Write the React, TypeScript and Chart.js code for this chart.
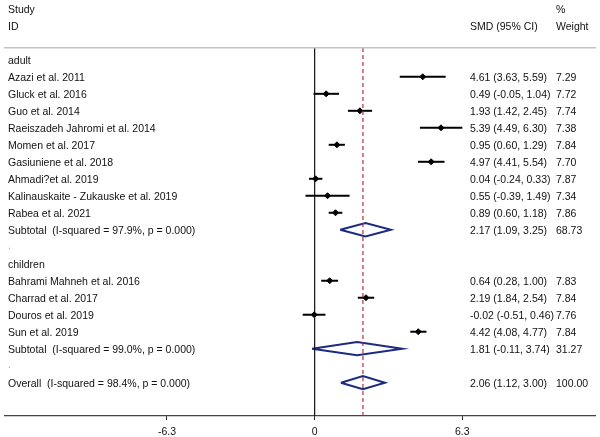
import React, { useEffect, useRef } from "react";
import { Chart, registerables } from "chart.js";
Chart.register(...registerables);

// ---------- data ----------
const adultStudies = [
  "Azazi et al. 2011",
  "Gluck et al. 2016",
  "Guo et al. 2014",
  "Raeiszadeh Jahromi et al. 2014",
  "Momen et al. 2017",
  "Gasiuniene et al. 2018",
  "Ahmadi?et al. 2019",
  "Kalinauskaite - Zukauske et al. 2019",
  "Rabea et al. 2021",
];
const adultSMD = [4.61, 0.49, 1.93, 5.39, 0.95, 4.97, 0.04, 0.55, 0.89];
const adultLow = [3.63, -0.05, 1.42, 4.49, 0.6, 4.41, -0.24, -0.39, 0.6];
const adultHigh = [5.59, 1.04, 2.45, 6.3, 1.29, 5.54, 0.33, 1.49, 1.18];
const adultWeight = [7.29, 7.72, 7.74, 7.38, 7.84, 7.7, 7.87, 7.34, 7.86];
const adultSubtotal = [2.17, 1.09, 3.25, 68.73];
const adultHet = "Subtotal  (I-squared = 97.9%, p = 0.000)";

const childStudies = [
  "Bahrami Mahneh et al. 2016",
  "Charrad et al. 2017",
  "Douros et al. 2019",
  "Sun et al. 2019",
];
const childSMD = [0.64, 2.19, -0.02, 4.42];
const childLow = [0.28, 1.84, -0.51, 4.08];
const childHigh = [1.0, 2.54, 0.46, 4.77];
const childWeight = [7.83, 7.84, 7.76, 7.84];
const childSubtotal = [1.81, -0.11, 3.74, 31.27];
const childHet = "Subtotal  (I-squared = 99.0%, p = 0.000)";

const overall = [2.06, 1.12, 3.0, 100.0];
const overallHet = "Overall  (I-squared = 98.4%, p = 0.000)";

const tickValues = [-6.3, 0, 6.3];

// ---------- layout / style ----------
const X_MIN = -13.21;
const X_MAX = 11.96;
const Y_MIN = -0.227;
const Y_MAX = 23.96;
const SEP_ROW = 2.29;
const FONT = "10.5px 'Liberation Sans', Arial, sans-serif";
const TEXT_COLOR = "#111";
const DIAMOND_COLOR = "#1c2a80";
const COL_STUDY = 8;
const COL_SMD = 470;
const COL_W = 556;

type TextItem = { text: string; row: number; x: number; color?: string };

function fmtCI(est: number, lo: number, hi: number) {
  return `${est.toFixed(2)} (${lo.toFixed(2)}, ${hi.toFixed(2)})`;
}

function buildAll() {
  const texts: TextItem[] = [];
  const ciSets: any[] = [];
  const points: { x: number; y: number }[] = [];
  const diamonds: any[] = [];

  texts.push({ text: "Study", row: 0, x: COL_STUDY });
  texts.push({ text: "ID", row: 1, x: COL_STUDY });
  texts.push({ text: "%", row: 0, x: COL_W });
  texts.push({ text: "SMD (95% CI)", row: 1, x: COL_SMD });
  texts.push({ text: "Weight", row: 1, x: COL_W });

  const addDiamond = (est: number, lo: number, hi: number, row: number) => {
    const h = 0.39;
    diamonds.push({
      data: [
        { x: lo, y: row },
        { x: est, y: row - h },
        { x: hi, y: row },
        { x: est, y: row + h },
        { x: lo, y: row },
      ],
      showLine: true,
      borderColor: DIAMOND_COLOR,
      borderWidth: 2,
      pointRadius: 0,
      fill: false,
      clip: false,
    });
  };

  const groups = [
    { label: "adult", names: adultStudies, smd: adultSMD, lo: adultLow, hi: adultHigh, w: adultWeight, sub: adultSubtotal, het: adultHet },
    { label: "children", names: childStudies, smd: childSMD, lo: childLow, hi: childHigh, w: childWeight, sub: childSubtotal, het: childHet },
  ];

  let r = 3;
  groups.forEach((g) => {
    texts.push({ text: g.label, row: r, x: COL_STUDY });
    r++;
    g.names.forEach((name, i) => {
      texts.push({ text: name, row: r, x: COL_STUDY });
      texts.push({ text: fmtCI(g.smd[i], g.lo[i], g.hi[i]), row: r, x: COL_SMD });
      texts.push({ text: g.w[i].toFixed(2), row: r, x: COL_W });
      ciSets.push({
        data: [
          { x: g.lo[i], y: r },
          { x: g.hi[i], y: r },
        ],
        showLine: true,
        borderColor: "#000",
        borderWidth: 2,
        pointRadius: 0,
        clip: false,
      });
      points.push({ x: g.smd[i], y: r });
      r++;
    });
    texts.push({ text: g.het, row: r, x: COL_STUDY });
    texts.push({ text: fmtCI(g.sub[0], g.sub[1], g.sub[2]), row: r, x: COL_SMD });
    texts.push({ text: g.sub[3].toFixed(2), row: r, x: COL_W });
    addDiamond(g.sub[0], g.sub[1], g.sub[2], r);
    r++;
    texts.push({ text: ".", row: r - 0.1, x: COL_STUDY, color: "#aaa" });
    r++;
  });
  texts.push({ text: overallHet, row: r, x: COL_STUDY });
  texts.push({ text: fmtCI(overall[0], overall[1], overall[2]), row: r, x: COL_SMD });
  texts.push({ text: overall[3].toFixed(2), row: r, x: COL_W });
  addDiamond(overall[0], overall[1], overall[2], r);

  return { texts, ciSets, points, diamonds };
}

export default function App() {
  const ref = useRef<HTMLCanvasElement>(null);

  useEffect(() => {
    if (!ref.current) return;
    const { texts, ciSets, points, diamonds } = buildAll();

    const textPlugin = {
      id: "forestText",
      afterDatasetsDraw(chart: any) {
        const ctx = chart.ctx;
        const ys = chart.scales.y;
        ctx.save();
        ctx.font = FONT;
        ctx.textBaseline = "middle";
        ctx.textAlign = "left";
        texts.forEach((t) => {
          ctx.fillStyle = t.color || TEXT_COLOR;
          ctx.fillText(t.text, t.x, ys.getPixelForValue(t.row) + 1.5);
        });
        ctx.restore();
      },
    };

    const datasets: any[] = [
      {
        data: [
          { x: X_MIN - 0.05, y: SEP_ROW },
          { x: X_MAX + 0.05, y: SEP_ROW },
        ],
        showLine: true,
        borderColor: "#c4c4c4",
        borderWidth: 1.5,
        pointRadius: 0,
        clip: false,
      },
      {
        data: [
          { x: 0, y: SEP_ROW + 0.02 },
          { x: 0, y: Y_MAX },
        ],
        showLine: true,
        borderColor: "#111",
        borderWidth: 1.2,
        pointRadius: 0,
        clip: false,
      },
      {
        data: [
          { x: overall[0], y: SEP_ROW + 0.02 },
          { x: overall[0], y: Y_MAX },
        ],
        showLine: true,
        borderColor: "#b3303c",
        borderWidth: 1.2,
        borderDash: [4, 3],
        pointRadius: 0,
        clip: false,
      },
      ...ciSets,
      {
        data: points,
        showLine: false,
        pointStyle: "rectRot",
        pointRadius: 3,
        pointBackgroundColor: "#000",
        pointBorderColor: "#000",
        pointBorderWidth: 1,
        clip: false,
      },
      ...diamonds,
    ];

    const chart = new Chart(ref.current, {
      type: "scatter",
      data: { datasets },
      options: {
        responsive: false,
        devicePixelRatio: 1,
        animation: false,
        events: [],
        layout: { padding: { left: 1, right: 4, top: 0, bottom: 0 } },
        plugins: { legend: { display: false }, tooltip: { enabled: false } },
        scales: {
          x: {
            type: "linear",
            min: X_MIN,
            max: X_MAX,
            afterBuildTicks: (scale: any) => {
              scale.ticks = tickValues.map((v) => ({ value: v }));
            },
            afterFit: (scale: any) => {
              scale.height = 21;
            },
            ticks: {
              autoSkip: false,
              maxRotation: 0,
              padding: 6,
              color: TEXT_COLOR,
              font: { family: "'Liberation Sans', Arial, sans-serif", size: 10.5 },
              callback: (v: any) => String(v),
            },
            grid: {
              display: true,
              drawOnChartArea: false,
              drawTicks: true,
              tickLength: 4,
              color: "#222",
            },
            border: { display: true, color: "#444", width: 1.2 },
          },
          y: {
            type: "linear",
            display: false,
            reverse: true,
            min: Y_MIN,
            max: Y_MAX,
          },
        },
      },
      plugins: [textPlugin],
    } as any);
    return () => chart.destroy();
  }, []);

  return (
    <div style={{ position: "fixed", left: 0, top: 0, width: 600, height: 437, background: "#fff" }}>
      <canvas ref={ref} width={600} height={437} style={{ width: 600, height: 437, display: "block" }} />
    </div>
  );
}
